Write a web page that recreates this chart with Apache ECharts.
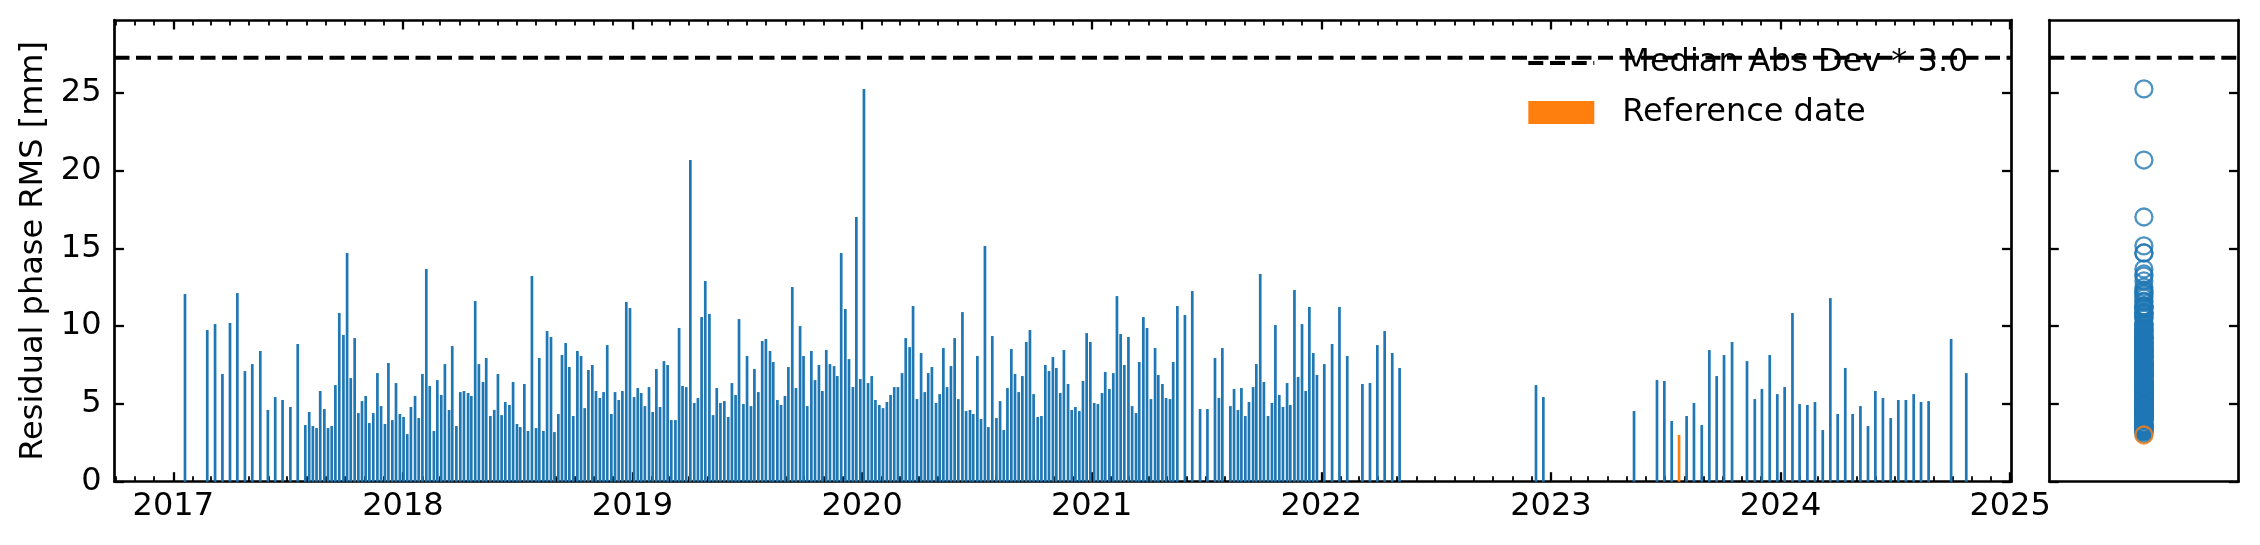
<!DOCTYPE html>
<html><head><meta charset="utf-8">
<script src="https://cdn.jsdelivr.net/npm/echarts@6/dist/echarts.min.js"></script>
<style>html,body{margin:0;padding:0;background:#fff}#c{width:2260px;height:545px}</style>
</head><body><div id="c"></div>
<script>
// acquisition dates as decimal years
const acqDates = [
2017.051,2017.148,2017.182,2017.214,2017.247,2017.279,2017.312,2017.344,2017.379,2017.412,
2017.444,2017.476,2017.510,2017.542,2017.575,2017.592,2017.608,2017.624,2017.640,2017.658,
2017.674,2017.690,2017.706,2017.723,2017.741,2017.757,2017.773,2017.790,2017.806,2017.822,
2017.838,2017.854,2017.871,2017.889,2017.905,2017.922,2017.937,2017.954,2017.970,2017.987,
2018.003,2018.019,2018.035,2018.053,2018.069,2018.085,2018.102,2018.117,
2018.135,2018.150,2018.167,2018.183,2018.201,2018.215,2018.233,2018.250,2018.266,2018.284,
2018.298,2018.315,2018.331,2018.349,2018.363,2018.381,2018.398,2018.414,2018.430,2018.446,
2018.464,2018.480,2018.497,2018.511,2018.529,2018.545,2018.562,2018.580,2018.594,2018.612,
2018.628,2018.645,2018.660,2018.677,2018.693,2018.709,2018.725,2018.742,2018.760,2018.776,
2018.792,2018.808,2018.825,2018.841,2018.858,2018.874,2018.890,2018.908,2018.924,2018.940,
2018.956,2018.973,2018.989,2019.007,2019.023,2019.038,2019.054,2019.072,2019.088,2019.104,
2019.120,2019.137,2019.153,2019.169,2019.187,2019.203,2019.218,2019.234,2019.252,2019.269,
2019.285,2019.301,2019.317,2019.335,2019.351,2019.367,2019.383,2019.400,2019.417,2019.433,
2019.449,2019.464,
2019.483,2019.499,2019.516,2019.531,2019.548,2019.565,2019.581,2019.599,2019.613,2019.631,
2019.647,2019.664,2019.679,2019.696,2019.712,2019.730,2019.745,2019.761,2019.779,2019.795,
2019.812,2019.827,2019.844,2019.860,2019.878,2019.892,2019.909,2019.927,2019.943,2019.960,
2019.975,2019.992,2020.008,2020.026,2020.042,2020.058,2020.075,2020.091,2020.108,2020.124,
2020.140,2020.156,2020.174,2020.190,2020.207,2020.222,2020.239,2020.257,2020.273,2020.288,
2020.304,2020.322,2020.338,2020.354,2020.370,2020.387,2020.403,2020.419,2020.437,2020.453,
2020.470,2020.484,2020.502,2020.518,2020.535,2020.550,2020.567,2020.585,2020.601,2020.617,
2020.633,2020.650,2020.666,2020.682,2020.698,2020.715,2020.731,2020.747,2020.765,2020.781,
2020.798,2020.814,
2020.831,2020.846,2020.863,2020.879,2020.897,2020.913,2020.929,2020.946,2020.962,2020.978,
2020.994,2021.011,2021.027,2021.045,2021.059,2021.077,2021.094,2021.110,2021.126,2021.142,
2021.160,2021.176,2021.193,2021.207,2021.225,2021.241,2021.258,2021.276,2021.290,2021.308,
2021.324,2021.341,2021.355,2021.373,2021.406,2021.438,2021.472,2021.504,2021.537,2021.554,
2021.569,2021.604,2021.620,2021.637,2021.652,2021.669,2021.685,2021.703,2021.717,2021.734,
2021.750,2021.768,2021.785,2021.800,2021.817,2021.833,2021.851,2021.865,2021.883,2021.899,
2021.916,2021.932,2021.948,2021.965,2021.981,2022.013,2022.047,2022.079,2022.113,
2022.179,2022.212,2022.244,2022.276,2022.309,2022.341,2022.935,2022.967,2023.362,2023.462,
2023.494,2023.526,2023.591,2023.623,2023.657,2023.690,2023.722,2023.754,2023.789,2023.854,
2023.888,2023.919,2023.953,2023.986,2024.018,2024.052,2024.083,2024.117,2024.150,2024.184,
2024.217,2024.249,2024.282,2024.314,2024.348,2024.381,2024.413,2024.446,2024.480,2024.513,
2024.546,2024.580,2024.612,2024.645,2024.743,2024.809
];
// residual phase RMS [mm]
const rmsValues = [
12.06,9.75,10.13,6.92,10.20,12.12,7.11,7.56,8.40,4.61,
5.44,5.25,4.80,8.85,3.64,4.48,3.58,3.45,5.83,4.67,
3.45,3.58,6.21,10.84,9.43,14.70,6.66,9.23,4.41,5.18,
5.51,3.77,4.41,6.98,4.86,3.71,7.63,3.96,6.34,4.35,
4.16,3.06,4.80,5.51,4.09,6.92,13.67,6.15,
3.26,6.53,5.57,7.56,4.61,8.72,3.58,5.76,5.83,5.70,
5.51,11.61,7.56,6.41,7.95,4.22,4.61,6.92,4.28,5.12,
4.93,6.41,3.71,3.51,6.28,3.26,13.22,3.45,7.95,3.26,
9.68,9.30,3.19,4.35,8.14,8.91,7.37,4.22,8.40,8.08,
4.73,7.18,7.50,5.83,5.38,5.76,8.78,4.35,5.76,5.25,
5.83,11.55,11.16,5.44,6.02,5.70,4.86,6.08,4.48,7.24,
4.80,7.75,7.50,3.96,3.96,9.88,6.15,6.08,20.67,5.06,
5.38,10.58,12.90,10.78,4.28,6.02,5.06,5.18,4.16,6.34,
5.57,10.45,
4.99,8.08,4.86,7.24,5.76,9.04,9.17,8.40,7.69,5.25,
4.93,5.51,7.37,12.51,6.02,10.00,8.08,4.86,8.40,6.53,
7.50,5.83,8.46,7.56,7.43,6.79,14.70,11.10,7.88,6.08,
17.01,6.60,25.24,6.34,6.79,5.25,4.93,4.73,5.12,5.57,
6.08,6.08,6.98,9.23,8.65,11.29,5.31,8.27,5.76,6.98,
7.37,5.06,5.63,8.59,6.08,7.43,9.23,5.31,10.90,4.54,
4.61,4.35,8.08,4.03,15.15,3.51,9.36,4.09,5.18,3.32,
6.02,8.53,6.92,5.76,6.79,8.98,9.75,5.63,4.16,4.22,
7.50,7.11,
8.01,7.31,5.70,8.46,6.28,4.61,4.80,4.54,6.47,9.55,
8.98,5.06,4.99,5.70,7.05,5.96,6.98,11.93,9.49,7.50,
9.30,4.86,4.41,7.69,10.58,9.88,5.31,8.59,6.86,6.28,
5.38,5.31,7.69,11.29,10.71,12.25,4.67,4.67,7.95,5.38,
8.59,4.86,5.96,4.61,6.02,4.22,5.12,6.08,7.56,13.35,
6.41,4.22,5.06,10.07,5.57,4.80,6.34,4.93,12.32,6.73,
10.13,5.83,11.23,8.27,6.86,7.56,8.85,11.23,8.08,
6.28,6.34,8.78,9.68,8.27,7.31,6.21,5.44,4.54,6.53,
6.47,3.90,4.22,5.06,3.64,8.46,6.79,8.14,8.98,7.75,
5.31,5.96,8.14,5.63,6.08,10.84,4.99,4.93,5.12,3.32,
11.80,4.35,7.31,4.35,4.86,3.58,5.83,5.38,4.09,5.25,
5.25,5.63,5.12,5.18,9.17,6.98
];
const refDate = 2023.558;
const refValue = 3.00;
const madThreshold = 27.25;
const yearTicks = [2017, 2018, 2019, 2020, 2021, 2022, 2023, 2024, 2025];
const yTicks = [0, 5, 10, 15, 20, 25];
const xRange = [2016.744, 2025.006];
const yRange = [0, 29.67];
const seriesNames = ['Median Abs Dev * 3.0', 'Reference date'];

// month-start minor tick positions (decimal years)
const monthTicks = [];
for (let y = 2016; y <= 2024; y++) {
  const y0 = Date.UTC(y, 0, 1), y1 = Date.UTC(y + 1, 0, 1);
  for (let m = 1; m < 12; m++) {
    const v = y + (Date.UTC(y, m, 1) - y0) / (y1 - y0);
    if (v > xRange[0] && v < xRange[1]) monthTicks.push(v);
  }
}

const FONT = 'DejaVu Sans';
const BLUE = '#1f77b4', ORANGE = '#ff7f0e';
const spine = { show: true, onZero: false, lineStyle: { color: '#000', width: 2.7 } };
const noLine = { show: false, onZero: false };

function xAx(grid, pos, ticks, len, w, showLine, labels) {
  return {
    type: 'value', gridIndex: grid, position: pos,
    min: grid === 0 ? xRange[0] : -1, max: grid === 0 ? xRange[1] : 1,
    axisLine: showLine ? spine : noLine,
    axisTick: ticks ? { show: true, inside: true, length: len, customValues: ticks, lineStyle: { color: '#000', width: w } } : { show: false },
    axisLabel: labels ? { show: true, customValues: ticks, margin: 9, fontSize: 32, fontFamily: FONT, color: '#000', formatter: v => String(v) } : { show: false },
    splitLine: { show: false }
  };
}
function yAx(grid, pos, labels, extra) {
  return Object.assign({
    type: 'value', gridIndex: grid, position: pos,
    min: yRange[0], max: yRange[1],
    axisLine: spine,
    axisTick: { show: true, inside: true, length: 9.5, customValues: yTicks, lineStyle: { color: '#000', width: 2.3 } },
    axisLabel: labels ? { show: true, customValues: yTicks, margin: 13, fontSize: 32, fontFamily: FONT, color: '#000' } : { show: false },
    splitLine: { show: false }
  }, extra || {});
}

const dashStyle = { color: '#000', width: 4, type: [15, 6.5] };

const chart = echarts.init(document.getElementById('c'), null, { renderer: 'canvas' });
chart.setOption({
  animation: false,
  backgroundColor: '#fff',
  grid: [
    { left: 114.5, right: 248.5, top: 20, bottom: 63.3 },
    { left: 2049.3, right: 21.5, top: 20, bottom: 63.3 }
  ],
  xAxis: [
    xAx(0, 'bottom', yearTicks, 9.5, 2.3, true, true),
    xAx(0, 'bottom', monthTicks, 5.5, 1.8, false, false),
    xAx(0, 'top', yearTicks, 9.5, 2.3, true, false),
    xAx(0, 'top', monthTicks, 5.5, 1.8, false, false),
    xAx(1, 'bottom', null, 0, 0, true, false),
    xAx(1, 'top', null, 0, 0, true, false)
  ],
  yAxis: [
    yAx(0, 'left', true, { name: 'Residual phase RMS [mm]', nameLocation: 'middle', nameGap: 63,
      nameTextStyle: { fontSize: 32, fontFamily: FONT, color: '#000' } }),
    yAx(0, 'right', false),
    yAx(1, 'left', false),
    yAx(1, 'right', false)
  ],
  legend: [
    { show: true, selectedMode: false, orient: 'vertical', left: 1528.3, top: 45, padding: 0,
      itemWidth: 66, itemHeight: 4,
      data: [{ name: seriesNames[0], icon: 'path://M0,0h15v4h-15z M21.7,0h15v4h-15z M43.4,0h15v4h-15z M65,0h1v4h-1z' }],
      textStyle: { fontSize: 32, fontFamily: FONT, color: '#000', lineHeight: 36, padding: [0, 0, 0, 23] } },
    { show: true, selectedMode: false, orient: 'vertical', left: 1528.3, top: 94.4, padding: 0,
      itemWidth: 66, itemHeight: 23,
      data: [{ name: seriesNames[1], icon: 'rect' }],
      textStyle: { fontSize: 32, fontFamily: FONT, color: '#000', lineHeight: 36, padding: [0, 0, 0, 23] } }
  ],
  series: [
    { type: 'bar', name: 'RMS', xAxisIndex: 0, yAxisIndex: 0, barWidth: 2.7, barGap: '-100%',
      itemStyle: { color: BLUE }, data: acqDates.map((d, i) => [d, rmsValues[i]]) },
    { type: 'bar', name: seriesNames[1], xAxisIndex: 0, yAxisIndex: 0, barWidth: 2.7, barGap: '-100%',
      itemStyle: { color: ORANGE }, data: [[refDate, refValue]] },
    { type: 'line', name: seriesNames[0], xAxisIndex: 0, yAxisIndex: 0, showSymbol: false, symbol: 'none',
      color: '#000', lineStyle: dashStyle, data: [[xRange[0], madThreshold], [xRange[1], madThreshold]] },
    { type: 'line', name: 'mad2', xAxisIndex: 4, yAxisIndex: 2, showSymbol: false, symbol: 'none',
      color: '#000', lineStyle: dashStyle, data: [[-1, madThreshold], [1, madThreshold]] },
    { type: 'scatter', name: 'dist', xAxisIndex: 4, yAxisIndex: 2, symbol: 'circle', symbolSize: 17,
      itemStyle: { color: 'rgba(0,0,0,0)', borderColor: BLUE, borderWidth: 2.3 },
      data: rmsValues.map(v => [0, v]) },
    { type: 'scatter', name: 'distRef', xAxisIndex: 4, yAxisIndex: 2, symbol: 'circle', symbolSize: 17, z: 5,
      itemStyle: { color: 'rgba(0,0,0,0)', borderColor: ORANGE, borderWidth: 2.3 },
      data: [[0, refValue]] }
  ]
});
</script></body></html>
